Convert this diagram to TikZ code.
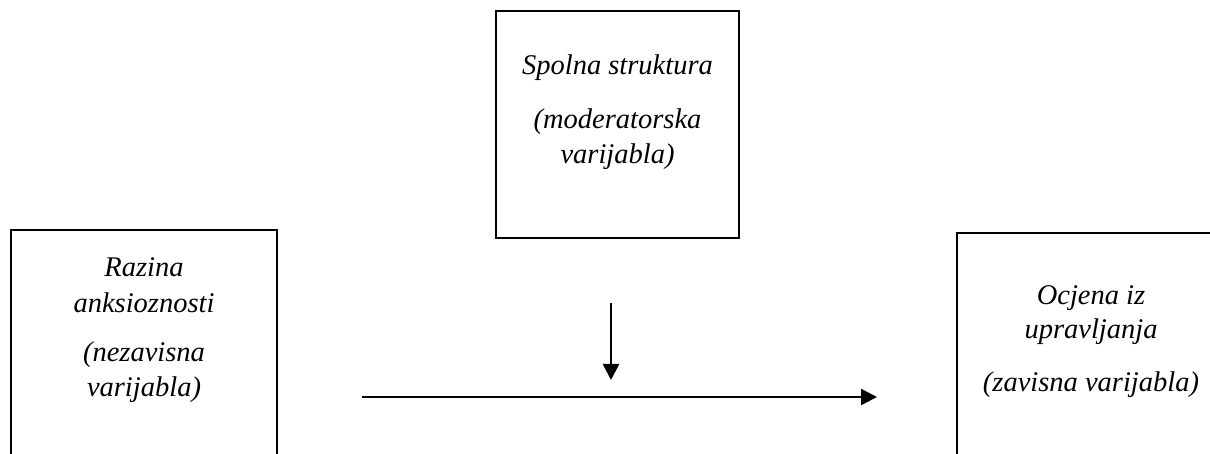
\documentclass[tikz,border=0pt]{standalone}
\usepackage{fontspec}
\setmainfont{Liberation Serif}[ItalicFont={Liberation Serif Italic}]
\usetikzlibrary{arrows.meta}
\tikzset{
  lbl/.style={anchor=base, inner sep=0pt, font=\fontsize{28.5}{34}\selectfont\itshape},
  frame/.style={line width=2pt},
  conn/.style={line width=2.5pt, -{Triangle[length=16pt,width=16pt]}}
}
\begin{document}
\begin{tikzpicture}[x=1pt,y=1pt]
\useasboundingbox (0,0) rectangle (1210,454);
\clip (0,0) rectangle (1210,454);
% boxes
\draw[frame] (496,443) rectangle (739,216);
\node[inner sep=0pt] (topbox) at (617.5,329.5) {};
\draw[frame] (11,224) rectangle (277,-20);
\node[inner sep=0pt] (leftbox) at (144,100) {};
\draw[frame] (957,221) rectangle (1225,-20);
\node[inner sep=0pt] (rightbox) at (1091,100) {};
% top box text
\node[lbl] (t1) at (617.5,379) {Spolna struktura};
\node[lbl] (t2) at (617.5,325) {(moderatorska};
\node[lbl] (t3) at (617.5,290) {varijabla)};
% left box text
\node[lbl] (l1) at (144,177) {Razina};
\node[lbl] (l2) at (144,141) {anksioznosti};
\node[lbl] (l3) at (144,92) {(nezavisna};
\node[lbl] (l4) at (144,57) {varijabla)};
% right box text
\node[lbl] (r1) at (1091,149) {Ocjena iz};
\node[lbl] (r2) at (1091,115) {upravljanja};
\node[lbl] (r3) at (1091,62) {(zavisna varijabla)};
% connectors
\coordinate (vs) at (611,151);
\coordinate (ve) at (611,74);
\coordinate (hs) at (362,57);
\coordinate (he) at (877,57);
\draw[conn] (vs) -- (ve);
\draw[conn] (hs) -- (he);
\end{tikzpicture}
\end{document}
